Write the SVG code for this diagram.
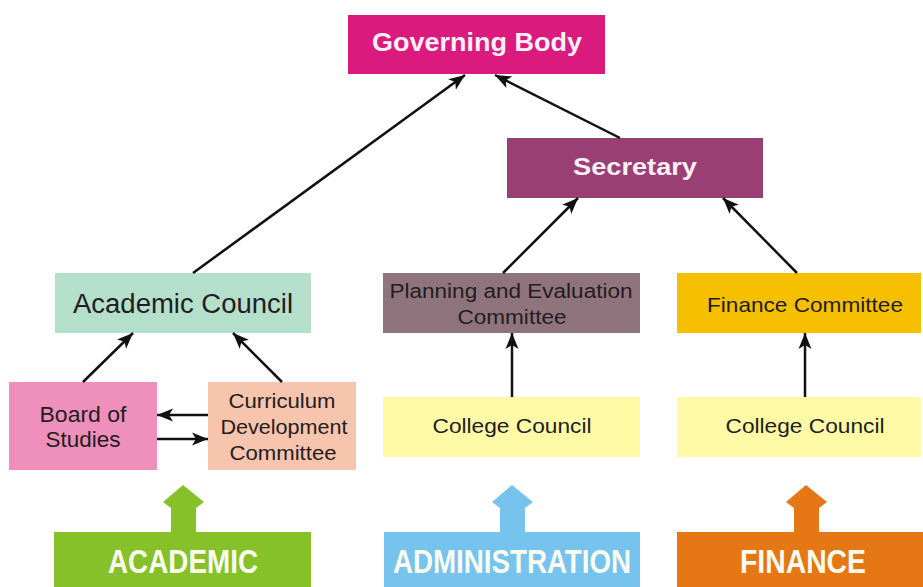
<svg xmlns="http://www.w3.org/2000/svg" width="923" height="587" viewBox="0 0 923 587">
<style>
  .t{font-family:"Liberation Sans",Arial,sans-serif;fill:#241c1e;text-anchor:middle}
  .w{font-family:"Liberation Sans",Arial,sans-serif;fill:#fdf0f8;font-weight:bold;text-anchor:middle}
  .big{font-family:"Liberation Sans",Arial,sans-serif;fill:#fbfbef;font-weight:bold;text-anchor:middle;font-size:33px}
  .c{stroke:#111;stroke-width:2.5;fill:none;marker-end:url(#ah)}
</style>
<defs>
  <marker id="ah" markerUnits="userSpaceOnUse" markerWidth="18" markerHeight="16" refX="16" refY="8" orient="auto">
    <path d="M0,1.5 L16,8 L0,14.5 L4,8 z" fill="#111"/>
  </marker>
</defs>
<rect width="923" height="587" fill="#ffffff"/>

<g id="governing-body">
  <rect x="348" y="15" width="257" height="59" fill="#da1a7c"/>
  <text class="w" x="477" y="51" font-size="26" textLength="210" lengthAdjust="spacingAndGlyphs">Governing Body</text>
</g>
<g id="secretary">
  <rect x="507" y="138" width="256" height="60" fill="#993f74"/>
  <text class="w" x="635" y="175" font-size="24" textLength="124" lengthAdjust="spacingAndGlyphs">Secretary</text>
</g>
<g id="academic-council">
  <rect x="55" y="273" width="256" height="60" fill="#b3dfcb"/>
  <text class="t" x="183" y="313" font-size="27" textLength="220" lengthAdjust="spacingAndGlyphs">Academic Council</text>
</g>
<g id="planning">
  <rect x="383" y="273" width="257" height="60" fill="#8f747e"/>
  <text class="t" x="511" y="298" font-size="20" textLength="243" lengthAdjust="spacingAndGlyphs">Planning and Evaluation</text>
  <text class="t" x="512" y="324" font-size="20" textLength="109" lengthAdjust="spacingAndGlyphs">Committee</text>
</g>
<g id="finance-committee">
  <rect x="677" y="273" width="244" height="60" fill="#f6c000"/>
  <text class="t" x="805" y="312" font-size="21" textLength="196" lengthAdjust="spacingAndGlyphs">Finance Committee</text>
</g>
<g id="board-of-studies">
  <rect x="9" y="382" width="148" height="88" fill="#ef8fbb"/>
  <text class="t" x="83" y="422" font-size="22" textLength="87" lengthAdjust="spacingAndGlyphs">Board of</text>
  <text class="t" x="83" y="447" font-size="22" textLength="75" lengthAdjust="spacingAndGlyphs">Studies</text>
</g>
<g id="curriculum">
  <rect x="208" y="382" width="148" height="88" fill="#f7c4ae"/>
  <text class="t" x="282" y="408" font-size="20.5" textLength="107" lengthAdjust="spacingAndGlyphs">Curriculum</text>
  <text class="t" x="284" y="434" font-size="20.5" textLength="127" lengthAdjust="spacingAndGlyphs">Development</text>
  <text class="t" x="283" y="460" font-size="20.5" textLength="107" lengthAdjust="spacingAndGlyphs">Committee</text>
</g>
<g id="college-council-admin">
  <rect x="383" y="397" width="257" height="60" fill="#fffaa6"/>
  <text class="t" x="512" y="433" font-size="21" textLength="159" lengthAdjust="spacingAndGlyphs">College Council</text>
</g>
<g id="college-council-finance">
  <rect x="677" y="397" width="244" height="60" fill="#fffaa6"/>
  <text class="t" x="805" y="433" font-size="21" textLength="159" lengthAdjust="spacingAndGlyphs">College Council</text>
</g>

<g id="academic">
  <polygon points="183,485 204,502 196,508 196,532 171,532 171,508 163,502" fill="#86c12a"/>
  <rect x="54" y="532" width="257" height="55" fill="#86c12a"/>
  <text class="big" x="183" y="573" textLength="150" lengthAdjust="spacingAndGlyphs">ACADEMIC</text>
</g>
<g id="administration">
  <polygon points="512,485 533,502 525,508 525,532 500,532 500,508 492,502" fill="#76c3ee"/>
  <rect x="384" y="532" width="256" height="55" fill="#76c3ee"/>
  <text class="big" x="512" y="573" textLength="238" lengthAdjust="spacingAndGlyphs">ADMINISTRATION</text>
</g>
<g id="finance">
  <polygon points="806,485 827,502 819,508 819,532 794,532 794,508 786,502" fill="#e67715"/>
  <rect x="677" y="532" width="246" height="55" fill="#e67715"/>
  <text class="big" x="803" y="573" textLength="126" lengthAdjust="spacingAndGlyphs">FINANCE</text>
</g>

<g id="connectors">
  <line class="c" x1="193" y1="273" x2="465" y2="75"/>
  <line class="c" x1="620" y1="138" x2="495" y2="75"/>
  <line class="c" x1="503" y1="273" x2="578" y2="198"/>
  <line class="c" x1="797" y1="273" x2="723" y2="198"/>
  <line class="c" x1="83" y1="382" x2="133" y2="333"/>
  <line class="c" x1="282" y1="382" x2="233" y2="333"/>
  <line class="c" x1="208" y1="415" x2="157" y2="415"/>
  <line class="c" x1="157" y1="439" x2="208" y2="439"/>
  <line class="c" x1="512" y1="397" x2="512" y2="333"/>
  <line class="c" x1="805" y1="397" x2="805" y2="333"/>
</g>
</svg>
